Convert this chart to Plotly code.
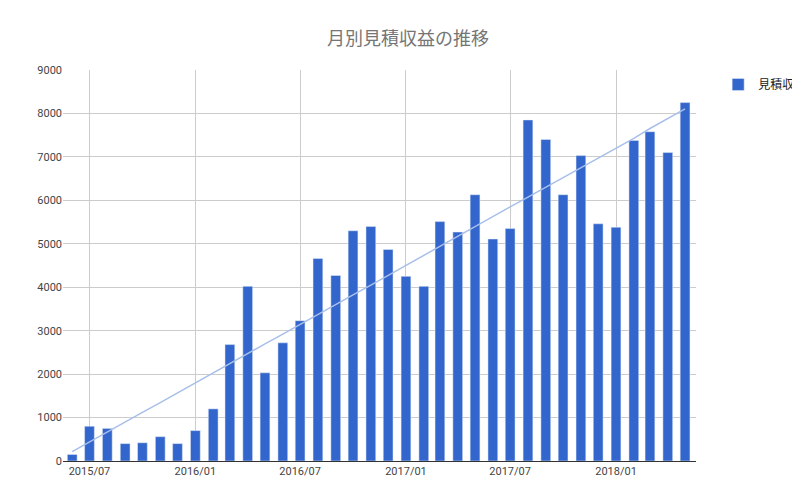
import plotly.graph_objects as go
import numpy as np
import pandas as pd

months = pd.date_range("2015-06-01", "2018-05-01", freq="MS")
values = [150, 800, 750, 400, 420, 560, 400,
          700, 1200, 2680, 4020, 2030, 2720, 3230, 4660, 4270, 5300, 5400, 4870,
          4250, 4020, 5510, 5270, 6130, 5110, 5350, 7850, 7400, 6130, 7030, 5460,
          5380, 7380, 7580, 7100, 8250]
series_name = "見積収益"
title = "月別見積収益の推移"

idx = np.arange(len(values))
a, b = np.polyfit(idx, values, 1)
trend = a * idx + b

fig = go.Figure()
fig.add_trace(go.Bar(x=months, y=values, name=series_name, marker_color="#3366cc",
                     width=1000*3600*24*17))
fig.add_trace(go.Scatter(x=months, y=trend, mode="lines", showlegend=False,
                         line=dict(color="#a8bfea", width=1.5), hoverinfo="skip"))
fig.update_layout(
    width=800, height=486, plot_bgcolor="white", paper_bgcolor="white",
    font=dict(family="Roboto, Noto Sans CJK JP", color="#444", size=11),
    title=dict(text=title, x=0.5, y=0.95, xanchor="center", automargin=False,
               font=dict(size=18, color="#757575")),
    margin=dict(l=55, r=112, t=62, b=33, autoexpand=False),
    legend=dict(x=1.035, y=1.0, xanchor="left", yanchor="top", font=dict(size=12, color="#222")),
    bargap=0.4,
)
fig.update_xaxes(type="date", range=["2015-05-16", "2018-05-20"], tickformat="%Y/%m",
                 dtick="M6", tick0="2015-07-01", showgrid=True, gridcolor="#cccccc",
                 showline=True, linecolor="#333", tickfont=dict(color="#444"), automargin=False)
fig.update_yaxes(range=[0, 9000], dtick=1000, showgrid=True, gridcolor="#cccccc",
                 zeroline=False, tickfont=dict(color="#444"), automargin=False)
fig.write_html("out.html")
